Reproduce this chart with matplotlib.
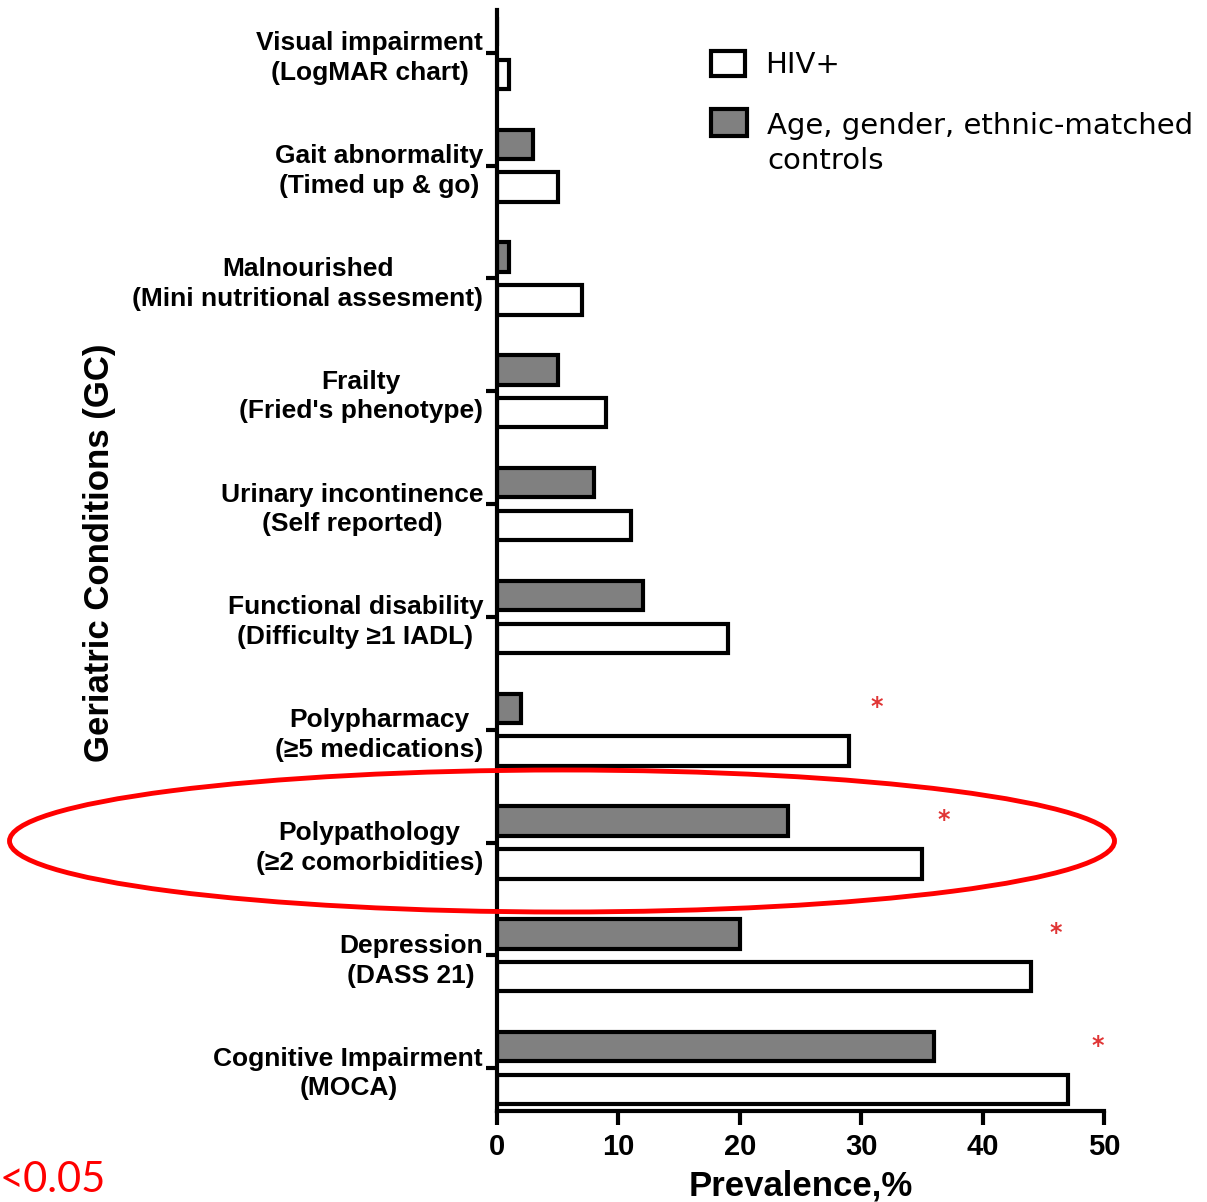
import numpy as np
import matplotlib
matplotlib.use('Agg')
import matplotlib.pyplot as plt
from matplotlib.patches import Ellipse, Rectangle

conditions = [
    'Visual impairment\n(LogMAR chart)',
    'Gait abnormality\n(Timed up & go)',
    'Malnourished\n(Mini nutritional assesment)',
    'Frailty\n(Fried\'s phenotype)',
    'Urinary incontinence\n(Self reported)',
    'Functional disability\n(Difficulty ≥1 IADL)',
    'Polypharmacy\n(≥5 medications)',
    'Polypathology\n(≥2 comorbidities)',
    'Depression\n(DASS 21)',
    'Cognitive Impairment\n(MOCA)',
]
hiv = [1, 5, 7, 9, 11, 19, 29, 35, 44, 47]
controls = [0, 3, 1, 5, 8, 12, 2, 24, 20, 36]

# significance stars (row index, x position)
star_rows = [6, 7, 8, 9]
star_x = [31.3, 36.8, 46.0, 49.5]

xticks = [0, 10, 20, 30, 40, 50]

W, H = 1207, 1202
fig = plt.figure(figsize=(W / 100, H / 100), dpi=100)
ax = fig.add_axes([497 / W, 1 - 1111 / H, (1104 - 497) / W, (1111 - 10) / H])

pos = np.arange(len(conditions))
off = 0.19
bh = 0.26
ax.barh(pos - off, controls, height=bh, color='#808080', edgecolor='black', linewidth=3)
ax.barh(pos + off, hiv, height=bh, color='white', edgecolor='black', linewidth=3)

for r, sx in zip(star_rows, star_x):
    ax.text(sx, r - 0.2, '*', color='#e03535', fontsize=17, fontweight='bold',
            ha='center', va='center', family='DejaVu Sans')

ax.set_xlim(0, 50)
ax.set_ylim(9.38, -0.38)
ax.set_xticks(xticks)
ax.set_xticklabels([str(t) for t in xticks], fontsize=21, fontweight='bold',
                   family='Liberation Sans')
ax.set_yticks(pos)
ax.set_yticklabels(conditions, fontsize=19, fontweight='bold', family='Liberation Sans')
for lbl in ax.get_yticklabels():
    lbl.set_multialignment('center')
    lbl.set_linespacing(1.3)

ax.spines['top'].set_visible(False)
ax.spines['right'].set_visible(False)
ax.spines['left'].set_linewidth(3)
ax.spines['bottom'].set_linewidth(3)
ax.spines['bottom'].set_bounds(0, 50)
ax.tick_params(axis='x', length=10, width=3, pad=6)
ax.tick_params(axis='y', length=8, width=3, pad=2)

ax.set_xlabel('Prevalence,%', fontsize=25, fontweight='bold',
              family='Liberation Sans', labelpad=6)
fig.text(100 / W, 1 - 553 / H, 'Geriatric Conditions (GC)', rotation=90,
         fontsize=25, fontweight='bold', family='Liberation Sans',
         ha='center', va='center')


def px_rect(x0, y0, x1, y1, fc):
    # rectangle given in figure pixels measured from the top-left corner
    r = Rectangle((x0 / W, 1 - y1 / H), (x1 - x0) / W, (y1 - y0) / H,
                  transform=fig.transFigure, facecolor=fc, edgecolor='black',
                  linewidth=3, clip_on=False)
    fig.add_artist(r)


# legend, laid out by hand
px_rect(711, 51, 745, 76, 'white')
px_rect(711, 109, 747, 136, '#808080')
fig.text(765 / W, 1 - 65 / H, 'HIV+', fontsize=21, family='DejaVu Sans',
         ha='left', va='center')
fig.text(767 / W, 1 - 143.5 / H, 'Age, gender, ethnic-matched\ncontrols', fontsize=21,
         family='DejaVu Sans', ha='left', va='center', linespacing=1.36)

ell = Ellipse((562 / W, 1 - 841 / H), 1105 / W, 142 / H, transform=fig.transFigure,
              fill=False, edgecolor='red', linewidth=3.5, clip_on=False)
fig.add_artist(ell)

fig.text(0, 1 - 1180 / H, '<0.05', color='red', fontsize=30, family='Lato',
         ha='left', va='center')

fig.savefig('out.png', dpi=100)
